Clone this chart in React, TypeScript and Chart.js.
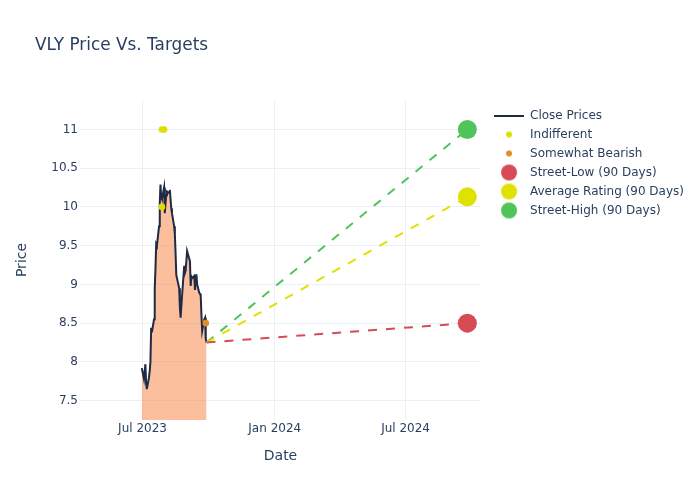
import React, { useEffect, useRef } from 'react';
import { Chart, registerables } from 'chart.js';

Chart.register(...registerables);

// ---------- data ----------
const titleText = 'VLY Price Vs. Targets';

const closeDates = [
  '2023-06-30', '2023-07-03', '2023-07-05', '2023-07-06', '2023-07-07', '2023-07-10', '2023-07-11',
  '2023-07-12', '2023-07-13', '2023-07-14', '2023-07-17', '2023-07-18', '2023-07-19', '2023-07-20',
  '2023-07-21', '2023-07-24', '2023-07-25', '2023-07-26', '2023-07-27', '2023-07-28', '2023-07-31',
  '2023-08-01', '2023-08-02', '2023-08-03', '2023-08-04', '2023-08-07', '2023-08-08', '2023-08-09',
  '2023-08-10', '2023-08-11', '2023-08-14', '2023-08-15', '2023-08-16', '2023-08-17', '2023-08-18',
  '2023-08-21', '2023-08-22', '2023-08-23', '2023-08-24', '2023-08-25', '2023-08-28', '2023-08-29',
  '2023-08-30', '2023-08-31', '2023-09-01', '2023-09-05', '2023-09-06', '2023-09-07', '2023-09-08',
  '2023-09-11', '2023-09-12', '2023-09-13', '2023-09-14', '2023-09-15', '2023-09-18', '2023-09-19',
  '2023-09-20', '2023-09-21', '2023-09-22', '2023-09-25', '2023-09-26', '2023-09-27', '2023-09-28',
];
const closePrices = [
  7.92, 7.78, 7.97, 7.72, 7.65, 7.80, 7.88,
  8.00, 8.44, 8.38, 8.55, 8.95, 9.20, 9.52,
  9.50, 9.75, 10.05, 10.29, 10.12, 10.10, 10.25,
  9.92, 10.05, 10.15, 10.20, 10.18, 10.22, 10.10,
  9.98, 9.92, 9.75, 9.65, 9.40, 9.12, 9.08,
  8.95, 8.70, 8.57, 8.72, 8.85, 9.24, 9.15,
  9.18, 9.30, 9.43, 9.30, 8.98, 9.10, 9.08,
  9.11, 8.93, 9.05, 9.13, 9.00, 8.89, 8.88,
  8.85, 8.60, 8.40, 8.55, 8.57, 8.30, 8.25,
];

const indifferentDates = ['2023-07-28', '2023-07-28', '2023-07-31'];
const indifferentValues = [10.0, 11.0, 11.0];
const bearishDates = ['2023-09-27'];
const bearishValues = [8.5];

const targetDate = '2024-09-25';
const streetLow = 8.5;
const averageRating = 10.13;
const streetHigh = 11.0;

const xTickDates = ['2023-07-01', '2024-01-01', '2024-07-01'];
const xTickLabels = ['Jul 2023', 'Jan 2024', 'Jul 2024'];
const yTickValues = [7.5, 8, 8.5, 9, 9.5, 10, 10.5, 11];
const xMinDate = '2023-04-05';
const xMaxDate = '2024-10-14';
const yMin = 7.25;
const yMax = 11.38;

// ---------- styles ----------
const FONT = 'DejaVu Sans';
const TEXT = '#2a3f5f';
const GRID = '#ebf0f8';
const LINE_COLOR = '#1f2a44';
const FILL_COLOR = 'rgba(247,127,59,0.5)';
const IND_COLOR = '#dede00';
const BEAR_COLOR = '#dc8c28';
const LOW_COLOR = '#d64b55';
const AVG_COLOR = '#e1e100';
const HIGH_COLOR = '#50c35a';

const toDay = (s: string) => {
  const [y, m, d] = s.split('-').map(Number);
  return Date.UTC(y, m - 1, d) / 86400000;
};

function dotCanvas(diam: number, color: string) {
  const c = document.createElement('canvas');
  const s = Math.ceil(diam) + 2;
  c.width = s;
  c.height = s;
  const g = c.getContext('2d')!;
  g.fillStyle = color;
  g.beginPath();
  g.arc(s / 2, s / 2, diam / 2, 0, Math.PI * 2);
  g.fill();
  return c;
}
function lineCanvas(w: number, h: number, color: string) {
  const c = document.createElement('canvas');
  c.width = w;
  c.height = h;
  const g = c.getContext('2d')!;
  g.fillStyle = color;
  g.fillRect(0, 0, w, h);
  return c;
}

const titlePlugin = {
  id: 'customTitle',
  afterLayout(chart: any) {
    if (chart.legend) chart.legend.top += 2.5;
  },
  afterDraw(chart: any) {
    const ctx = chart.ctx;
    ctx.save();
    ctx.font = `16.9px "${FONT}"`;
    ctx.fillStyle = TEXT;
    ctx.textAlign = 'left';
    ctx.textBaseline = 'alphabetic';
    ctx.fillText(titleText, 35, 49.5);
    ctx.restore();
  },
};

export default function App() {
  const ref = useRef<HTMLCanvasElement | null>(null);

  useEffect(() => {
    if (!ref.current) return;
    Chart.defaults.font.family = FONT;
    Chart.defaults.color = TEXT;

    const lastX = closeDates[closeDates.length - 1];
    const lastY = closePrices[closePrices.length - 1];
    const pts = (ds: string[], vs: number[]) => ds.map((d, i) => ({ x: toDay(d), y: vs[i] }));

    const dashed = (color: string, target: number) => ({
      type: 'line',
      data: [{ x: toDay(lastX), y: lastY }, { x: toDay(targetDate), y: target }],
      borderColor: color,
      borderWidth: 2,
      borderDash: [9, 9],
      pointRadius: 0,
      fill: false,
      order: 5,
    });
    const marker = (label: string, ds: string[], vs: number[], color: string, r: number) => ({
      type: 'line',
      label,
      data: pts(ds, vs),
      showLine: false,
      pointRadius: r,
      pointHoverRadius: r,
      pointBackgroundColor: color,
      pointBorderWidth: 0,
      backgroundColor: color,
      borderColor: color,
      order: 1,
    });

    const datasets: any[] = [
      {
        type: 'line',
        label: 'Close Prices',
        data: pts(closeDates, closePrices),
        borderColor: LINE_COLOR,
        borderWidth: 2,
        backgroundColor: FILL_COLOR,
        fill: 'start',
        pointRadius: 0,
        tension: 0,
        order: 10,
      },
      marker('Indifferent', indifferentDates, indifferentValues, IND_COLOR, 3.3),
      marker('Somewhat Bearish', bearishDates, bearishValues, BEAR_COLOR, 3.3),
      marker('Street-Low (90 Days)', [targetDate], [streetLow], LOW_COLOR, 9.5),
      marker('Average Rating (90 Days)', [targetDate], [averageRating], AVG_COLOR, 9.5),
      marker('Street-High (90 Days)', [targetDate], [streetHigh], HIGH_COLOR, 9.5),
      dashed(LOW_COLOR, streetLow),
      dashed(AVG_COLOR, averageRating),
      dashed(HIGH_COLOR, streetHigh),
    ];

    const legendSamples = [
      lineCanvas(30, 2, LINE_COLOR),
      dotCanvas(6, IND_COLOR),
      dotCanvas(6, BEAR_COLOR),
      dotCanvas(16, LOW_COLOR),
      dotCanvas(16, AVG_COLOR),
      dotCanvas(16, HIGH_COLOR),
    ];

    const chart = new Chart(ref.current, {
      type: 'line',
      data: { datasets },
      plugins: [titlePlugin],
      options: {
        responsive: false,
        animation: false,
        devicePixelRatio: 1,
        layout: { padding: { top: 100, right: 6, bottom: 0, left: 0 } },
        plugins: {
          title: { display: false },
          tooltip: { enabled: false },
          legend: {
            position: 'right',
            align: 'start',
            maxWidth: 300,
            labels: {
              usePointStyle: true,
              pointStyleWidth: 30,
              padding: 7,
              color: TEXT,
              font: { size: 12, family: FONT },
              generateLabels: () =>
                datasets.slice(0, 6).map((d, i) => ({
                  text: d.label,
                  pointStyle: legendSamples[i],
                  fillStyle: 'transparent',
                  strokeStyle: 'transparent',
                  lineWidth: 0,
                  hidden: false,
                  datasetIndex: i,
                  fontColor: TEXT,
                })),
            },
          },
        },
        scales: {
          x: {
            type: 'linear',
            min: toDay(xMinDate),
            max: toDay(xMaxDate),
            afterBuildTicks: (s: any) => {
              s.ticks = xTickDates.map((d) => ({ value: toDay(d) }));
            },
            afterFit: (s: any) => {
              s.height = 80;
            },
            grid: { color: GRID, drawTicks: false, lineWidth: 1 },
            border: { display: false },
            ticks: {
              padding: 2,
              color: TEXT,
              font: { size: 12, family: FONT },
              maxRotation: 0,
              autoSkip: false,
              callback: (_v: any, i: number) => xTickLabels[i],
            },
            title: {
              display: true,
              text: 'Date',
              color: TEXT,
              font: { size: 14, family: FONT },
              padding: { top: 0, bottom: 35.6 },
            },
          },
          y: {
            type: 'linear',
            position: 'left',
            min: yMin,
            max: yMax,
            afterBuildTicks: (s: any) => {
              s.ticks = yTickValues.map((v) => ({ value: v }));
            },
            afterFit: (s: any) => {
              s.width = 80;
            },
            grid: { color: GRID, drawTicks: false, lineWidth: 1 },
            border: { display: false },
            ticks: {
              padding: 2,
              color: TEXT,
              font: { size: 12, family: FONT },
              callback: (v: any) => String(v),
            },
            title: {
              display: true,
              text: 'Price',
              color: TEXT,
              font: { size: 14, family: FONT },
              padding: { top: 14, bottom: 0 },
            },
          },
          y2: {
            type: 'linear',
            position: 'right',
            display: true,
            afterFit: (s: any) => {
              s.width = 6;
            },
            ticks: { display: false },
            grid: { display: false },
            border: { display: false },
          },
        },
      } as any,
    } as any);

    return () => chart.destroy();
  }, []);

  return (
    <div style={{ position: 'absolute', left: 0, top: 0, width: 700, height: 500, background: '#fff' }}>
      <canvas ref={ref} width={700} height={500} style={{ display: 'block' }} />
    </div>
  );
}
